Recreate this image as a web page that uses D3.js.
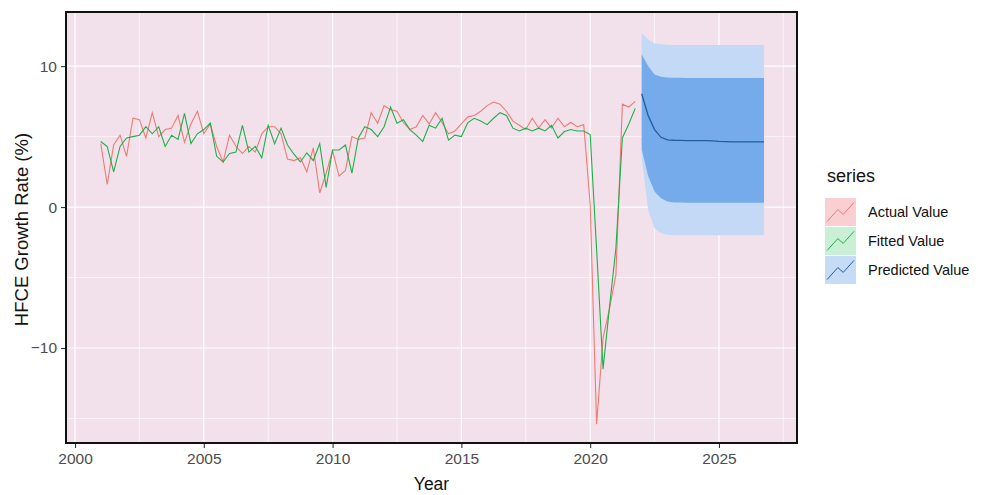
<!DOCTYPE html>
<html>
<head>
<meta charset="utf-8">
<script src="https://cdn.jsdelivr.net/npm/d3@7"></script>
<style>
  body { margin: 0; background: #ffffff; }
  svg { display: block; }
  text { font-family: Arial, "Liberation Sans", sans-serif; }
</style>
</head>
<body>
<svg id="chart" width="989" height="495"></svg>
<script>
// Quarterly HFCE growth rate (%), 2001 Q1 – 2021 Q4
const actualStart = 2001;
const actualValues = [
  4.5, 1.6, 4.4, 5.1,   3.6, 6.3, 6.2, 4.9,   6.7, 5.0, 5.5, 5.6,
  6.5, 4.6, 5.9, 6.8,   5.2, 5.9, 4.3, 3.2,   5.1, 4.3, 3.8, 4.3,
  3.9, 5.2, 5.7, 5.7,   5.2, 3.4, 3.3, 3.5,   2.5, 4.2, 1.0, 2.4,
  4.0, 2.2, 2.6, 5.0,   4.8, 4.9, 6.7, 5.95,  7.2, 6.9, 6.8, 6.0,
  5.5, 5.7, 6.5, 5.9,   6.7, 6.0, 5.2, 5.4,   5.9, 6.4, 6.5, 6.8,
  7.2, 7.45, 7.3, 6.8,  6.1, 5.8, 5.5, 6.3,   5.6, 6.2, 5.6, 6.3,
  5.7, 6.0, 5.7, 5.85,  0.2, -15.4, -9.3, -7.2, -4.8, 7.3, 7.1, 7.5
];
const fittedValues = [
  4.65, 4.3, 2.5, 4.3,  4.9, 5.0, 5.1, 5.7,   5.2, 5.7, 4.3, 5.1,
  4.8, 6.65, 4.5, 5.2,  5.5, 5.95, 3.6, 3.2,  3.8, 3.9, 5.8, 3.9,
  4.3, 3.5, 5.8, 4.5,   5.6, 4.4, 3.75, 3.2,  3.85, 3.3, 4.5, 1.4,
  4.05, 4.05, 4.4, 2.4, 4.9, 5.7, 5.5, 5.0,   5.7, 7.1, 5.95, 6.2,
  5.5, 5.1, 4.65, 5.8,  5.6, 6.3, 4.75, 5.1,  5.0, 6.0, 6.3, 6.1,
  5.85, 6.3, 6.7, 6.5,  5.6, 5.4, 5.6, 5.4,   5.6, 5.4, 5.8, 4.9,
  5.36, 5.5, 5.4, 5.4,  5.15, -3.0, -11.5, -7.1, -2.9, 4.9, 5.9, 7.0
];

// Forecast, 2022 Q1 – 2026 Q4, with 80% and 95% intervals
const forecastStart = 2022;
const predictedMean = [8.04, 6.5, 5.5, 4.95, 4.77, 4.74, 4.73, 4.72, 4.72, 4.72,
                       4.71, 4.70, 4.66, 4.64, 4.63, 4.63, 4.62, 4.62, 4.62, 4.62];
const upper80 = [10.85, 10.0, 9.4, 9.25, 9.2, 9.18, 9.17, 9.16, 9.16, 9.15,
                 9.15, 9.15, 9.15, 9.15, 9.15, 9.15, 9.15, 9.15, 9.15, 9.15];
const lower80 = [4.1, 2.2, 1.1, 0.62, 0.4, 0.33, 0.32, 0.31, 0.31, 0.31,
                 0.31, 0.31, 0.31, 0.31, 0.31, 0.31, 0.31, 0.31, 0.31, 0.31];
const upper95 = [12.35, 11.9, 11.6, 11.55, 11.52, 11.5, 11.5, 11.5, 11.5, 11.5,
                 11.5, 11.5, 11.5, 11.5, 11.5, 11.5, 11.5, 11.5, 11.5, 11.5];
const lower95 = [3.5, -0.2, -1.5, -1.85, -1.97, -2.0, -2.0, -2.0, -2.0, -2.0,
                 -2.0, -2.0, -2.0, -2.0, -2.0, -2.0, -2.0, -2.0, -2.0, -2.0];

const xMajorTicks = [2000, 2005, 2010, 2015, 2020, 2025];
const xMinorTicks = [2002.5, 2007.5, 2012.5, 2017.5, 2022.5, 2027.5];
const yMajorTicks = [-10, 0, 10];
const yMinorTicks = [-15, -5, 5];
const seriesNames = ["Actual Value", "Fitted Value", "Predicted Value"];

const quarterTime = (start, i) => start + i / 4;
const actual = actualValues.map((v, i) => ({ t: quarterTime(actualStart, i), v }));
const fitted = fittedValues.map((v, i) => ({ t: quarterTime(actualStart, i), v }));
const forecast = predictedMean.map((v, i) => ({
  t: quarterTime(forecastStart, i), v,
  lo80: lower80[i], hi80: upper80[i], lo95: lower95[i], hi95: upper95[i]
}));

const panel = { left: 66, right: 797, top: 12, bottom: 443 };
const x = d3.scaleLinear().domain([1999.65, 2028.03]).range([panel.left, panel.right]);
const y = d3.scaleLinear().domain([-16.74, 13.84]).range([panel.bottom, panel.top]);

const svg = d3.select("#chart");

const colors = {
  actual: "#ee7b74",
  fitted: "#1fae4c",
  predicted: "#1d5e9f",
  band80: "#76abeb",
  band95: "#c4d9f5"
};

// Panel background
svg.append("rect")
  .attr("x", panel.left).attr("y", panel.top)
  .attr("width", panel.right - panel.left).attr("height", panel.bottom - panel.top)
  .attr("fill", "#f2e1ea");

const grid = svg.append("g");
grid.selectAll(".xminor").data(xMinorTicks).join("line")
  .attr("x1", d => x(d)).attr("x2", d => x(d))
  .attr("y1", panel.top).attr("y2", panel.bottom)
  .attr("stroke", "#ffffff").attr("stroke-width", 0.6);
grid.selectAll(".yminor").data(yMinorTicks).join("line")
  .attr("y1", d => y(d)).attr("y2", d => y(d))
  .attr("x1", panel.left).attr("x2", panel.right)
  .attr("stroke", "#ffffff").attr("stroke-width", 0.6);
grid.selectAll(".xmajor").data(xMajorTicks).join("line")
  .attr("x1", d => x(d)).attr("x2", d => x(d))
  .attr("y1", panel.top).attr("y2", panel.bottom)
  .attr("stroke", "#ffffff").attr("stroke-width", 1.2);
grid.selectAll(".ymajor").data(yMajorTicks).join("line")
  .attr("y1", d => y(d)).attr("y2", d => y(d))
  .attr("x1", panel.left).attr("x2", panel.right)
  .attr("stroke", "#ffffff").attr("stroke-width", 1.2);

// Prediction intervals
const area95 = d3.area().x(d => x(d.t)).y0(d => y(d.lo95)).y1(d => y(d.hi95));
const area80 = d3.area().x(d => x(d.t)).y0(d => y(d.lo80)).y1(d => y(d.hi80));
svg.append("path").datum(forecast).attr("d", area95).attr("fill", colors.band95);
svg.append("path").datum(forecast).attr("d", area80).attr("fill", colors.band80);

// Series lines
const line = d3.line().x(d => x(d.t)).y(d => y(d.v));
svg.append("path").datum(actual).attr("d", line)
  .attr("fill", "none").attr("stroke", colors.actual).attr("stroke-width", 1.1);
svg.append("path").datum(fitted).attr("d", line)
  .attr("fill", "none").attr("stroke", colors.fitted).attr("stroke-width", 1.1);
svg.append("path").datum(forecast).attr("d", line)
  .attr("fill", "none").attr("stroke", colors.predicted).attr("stroke-width", 1.3);

// Panel border
svg.append("rect")
  .attr("x", panel.left).attr("y", panel.top)
  .attr("width", panel.right - panel.left).attr("height", panel.bottom - panel.top)
  .attr("fill", "none").attr("stroke", "#111111").attr("stroke-width", 2);

// Axes
const xAxis = d3.axisBottom(x).tickValues(xMajorTicks).tickFormat(d3.format("d"))
  .tickSize(4).tickPadding(5);
const yAxis = d3.axisLeft(y).tickValues(yMajorTicks).tickFormat(d3.format("d"))
  .tickSize(4).tickPadding(4);

const gx = svg.append("g").attr("transform", `translate(0,${panel.bottom + 1})`).call(xAxis);
const gy = svg.append("g").attr("transform", `translate(${panel.left - 1},0)`).call(yAxis);
[gx, gy].forEach(g => {
  g.select(".domain").remove();
  g.selectAll(".tick line").attr("stroke", "#333333").attr("stroke-width", 1.1);
  g.selectAll(".tick text").attr("fill", "#4d4d4d")
    .style("font-size", "15.5px").style("font-family", "Arial, 'Liberation Sans', sans-serif");
});

// Axis titles
svg.append("text")
  .attr("x", (panel.left + panel.right) / 2).attr("y", 490)
  .attr("text-anchor", "middle").attr("fill", "#111")
  .style("font-size", "17.5px").text("Year");
svg.append("text")
  .attr("transform", `translate(28,${(panel.top + panel.bottom) / 2 + 2}) rotate(-90)`)
  .attr("text-anchor", "middle").attr("fill", "#111")
  .style("font-size", "18.5px").text("HFCE Growth Rate (%)");

// Legend
const legend = svg.append("g").attr("transform", "translate(825,0)");
legend.append("text").attr("x", 2).attr("y", 182).attr("fill", "#111")
  .style("font-size", "18px").text("series");

const keyFills = ["#f9cfd1", "#c9efd4", "#c6dbf5"];
const keyStrokes = [colors.actual, colors.fitted, colors.predicted];
const keyW = 31, keyH = 28, keyTop = 198;
const keyGlyph = d3.line();
seriesNames.forEach((name, i) => {
  const ky = keyTop + i * (keyH + 1);
  legend.append("rect").attr("x", 0).attr("y", ky).attr("width", keyW).attr("height", keyH)
    .attr("fill", keyFills[i]);
  const pts = [[0, 0.1], [0.4, 0.6], [0.6, 0.4], [1, 0.9]]
    .map(([px, py]) => [2 + px * (keyW - 4), ky + keyH - 2 - py * (keyH - 4)]);
  legend.append("path").attr("d", keyGlyph(pts))
    .attr("fill", "none").attr("stroke", keyStrokes[i]).attr("stroke-width", 1);
  legend.append("text").attr("x", keyW + 12).attr("y", ky + keyH / 2)
    .attr("dy", "0.35em").attr("fill", "#111")
    .style("font-size", "14.5px").text(name);
});
</script>
</body>
</html>
